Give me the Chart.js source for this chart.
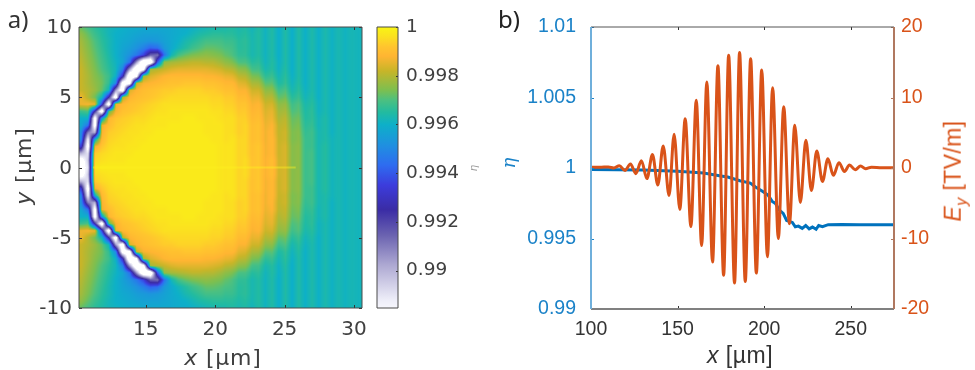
<!DOCTYPE html>
<html>
<head>
<meta charset="utf-8">
<script src="https://cdn.jsdelivr.net/npm/chart.js@4/dist/chart.umd.min.js"></script>
<style>
  body { margin: 0; background: #fff; width: 975px; height: 370px; overflow: hidden; position: relative; }
  canvas { position: absolute; top: 0; }
  .t { position: absolute; white-space: nowrap; transform: translate(-50%, -50%); }
  .dj { font-family: "DejaVu Sans"; color: #404040; }
  .li { font-family: "Liberation Sans"; color: #333; }
  .rot { transform: translate(-50%, -50%) rotate(-90deg); }
  sub { font-size: 70%; }
</style>
</head>
<body>
<canvas id="heat" width="372" height="370" style="left:0"></canvas>
<canvas id="cbar" width="130" height="370" style="left:365px"></canvas>
<canvas id="lines" width="485" height="370" style="left:490px"></canvas>
<div class="t" style="left:18px;top:18px;font:24px 'Noto Sans';color:#333">a)</div>
<div class="t" style="left:509px;top:18px;font:24px 'Noto Sans';color:#222">b)</div>
<div class="t dj" style="left:223px;top:357px;font-size:22px;letter-spacing:.8px"><i>x</i> [µm]</div>
<div class="t dj rot" style="left:23px;top:166px;font-size:22px;letter-spacing:.8px"><i>y</i> [µm]</div>
<div class="t rot" style="left:473px;top:168px;font:italic 10px 'DejaVu Sans';color:#999">η</div>
<div class="t li" style="left:740px;top:355px;font-size:23px;letter-spacing:.5px"><i>x</i> [µm]</div>
<div class="t rot" style="left:508px;top:163px;font:italic 18px 'DejaVu Serif';color:#1a82c8">η</div>
<div class="t rot" style="left:955px;top:171px;font:23px 'Liberation Sans';color:#d95319;letter-spacing:.4px"><i>E<sub>y</sub></i> [TV/m]</div>
<script>
// panel a: eta deficit (1 - eta) in units of 1e-4.
// columns every 0.5 um, rows every 0.5 um from y = 10 down to y = 0 (picture is mirrored about y = 0)
// anything above about 115 is past the bottom of the colorbar and shows white
const gridX0 = 10.35;
const gridStep = 0.5;
const deficitUpper = [
  [28,31,34,36,38,39,40,41,41,42,42,42,42,42,41,41,40,39,38,37,37,36,36,36,37,37,37,37,38,38,38,38,38,38,38,38,38,38,38,38,38],
  [24,28,32,35,38,40,41,42,43,44,44,44,43,42,41,40,38,36,35,34,34,34,35,35,36,36,37,37,38,38,38,38,38,38,38,38,38,38,38,38,38],
  [22,26,30,34,37,40,42,43,45,46,47,46,44,42,40,37,35,33,31,31,31,32,33,34,35,36,37,37,38,38,38,38,38,38,38,38,38,38,38,38,38],
  [21,25,29,33,37,40,43,45,48,52,58,56,46,42,38,35,32,30,28,28,29,30,32,34,35,36,37,37,38,38,38,38,38,38,38,38,38,38,38,38,38],
  [20,24,28,32,36,40,44,48,54,64,85,88,55,38,31,28,26,25,24,25,26,28,31,33,35,36,37,37,38,38,38,38,38,38,38,38,38,38,38,38,38],
  [19,23,27,31,35,39,43,55,95,135,135,60,24,22,21,20,19,19,20,20,22,24,27,30,32,34,36,37,37,38,38,38,38,38,38,38,38,38,38,38,38],
  [18,22,26,30,34,38,52,95,135,125,22,20,18,16,15,15,15,15,15,16,17,19,21,24,27,31,34,36,37,37,38,38,38,38,38,38,38,38,38,38,38],
  [18,21,25,28,32,40,70,135,120,22,16,14,12,11,11,11,11,11,12,12,13,14,16,19,22,26,30,33,35,36,37,38,38,38,38,38,38,38,38,38,38],
  [18,21,24,27,33,50,125,125,18,13,12,11,10,9,9,8,8,8,9,9,10,11,12,15,18,21,25,29,32,35,36,37,38,38,38,38,38,38,38,38,38],
  [18,20,23,28,38,95,130,16,12,10,9,8,7,7,6,6,6,6,7,7,8,9,10,12,14,17,20,24,28,31,34,36,37,38,38,38,38,38,38,38,38],
  [14,20,27,38,75,130,20,12,10,9,8,7,6,5,5,5,5,5,5,6,6,7,8,10,12,14,17,20,24,28,31,34,36,37,38,38,38,38,38,38,38],
  [14,13,14,65,130,14,11,9,8,7,6,5,4,4,4,4,4,4,4,5,5,6,7,8,10,12,14,17,20,24,28,31,34,36,37,38,38,38,38,38,38],
  [32,30,75,130,30,13,9,8,7,6,5,4,4,3,3,3,3,3,3,4,4,5,6,7,9,11,13,15,18,22,26,30,33,35,37,38,38,38,38,38,38],
  [40,40,125,45,12,8,7,6,5,5,4,3,3,3,3,2,2,3,3,3,4,4,5,6,8,10,12,14,17,20,24,28,32,35,36,37,38,38,38,38,38],
  [42,55,125,14,10,7,6,5,4,4,3,3,3,2,2,2,2,2,3,3,3,4,5,6,7,9,11,13,15,19,23,27,31,34,36,37,38,38,38,38,38],
  [48,90,100,13,7,6,5,4,4,3,3,2,2,2,2,2,2,2,3,3,3,4,5,6,7,9,11,12,15,18,22,26,30,33,35,37,38,38,38,38,38],
  [50,115,40,11,6,5,4,4,3,3,2,2,2,2,2,2,2,2,2,3,3,4,4,5,7,9,11,12,14,18,22,26,29,33,35,37,37,38,38,38,38],
  [65,125,14,8,5,4,4,3,3,2,2,2,2,2,2,2,2,2,2,2,3,3,4,5,7,8,10,12,14,17,21,25,29,33,35,36,37,38,38,38,38],
  [100,110,7,5,4,3,3,3,2,2,2,2,2,2,2,2,2,2,2,2,3,3,4,5,7,8,10,12,14,17,21,25,29,32,35,36,37,38,38,38,38],
  [125,105,5,4,3,3,3,2,2,2,2,2,2,2,2,2,2,2,2,2,3,3,4,5,6,8,10,11,13,17,21,25,29,32,35,36,37,38,38,38,38],
  [125,110,3,2,2,2,2,2,2,2,2,2,2,2,2,2,2,2,2,2,3,3,4,5,6,8,10,11,13,17,21,25,29,32,35,36,37,38,38,38,38]
];
const deficitRows = deficitUpper.concat(deficitUpper.slice(0, -1).reverse());
// faint vertical stripes at the right of the map, one value every 0.24 um from x = 20.5
const stripeX0 = 20.5;
const stripeStep = 0.24;
const stripes = [0,.5,0,-.5,0,1,0,-1,0,1.5,0,-1.5,0,2,0,-2,0,2.5,0,-2.5,0,2.5,0,-2.5,0,2,0,-2,0,2,0,-1.5,0,1.5,0,-1,0,1,0,-.5,0,.5,0];
// bright line along y = 0
const axisLineX = [11.2, 25.8];
const axisLineY = [0, 0];

// colormap: deficit -> colour
const cmapDeficit = [0,4,8,12,18,26,30,35,40,48.5,56.7,65,75,85.4,97.7,112,115.4];
const cmapColors = ["#f9f514","#fbe020","#ffc52e","#ffb532","#c8b528","#7cbf50","#4cc080","#22bba0","#0db0c8","#1f90e0","#2e6cf0","#3c3cdc","#3a2ca5","#6a62b0","#ada8d2","#ededf8","#f6f6fc"];
const cbarMin = 0.98846;
const cbarTicks = [1, 0.998, 0.996, 0.994, 0.992, 0.99];
const cbarTickLabels = ["1", "0.998", "0.996", "0.994", "0.992", "0.99"];
const heatXTicks = [15, 20, 25, 30];
const heatYTicks = [10, 5, 0, -5, -10];

// panel b: read at the extrema of the field
const fieldX = [100,106,110.1,113.2,116.4,119.6,122.8,125.9,129.1,132.3,135.5,138.6,141.7,145.1,148,151.3,154.4,157.7,160.8,163.9,166.9,170.2,173.3,176.6,179.5,182.9,185.8,189.1,192.2,195.5,198.6,201.9,204.9,208.2,211.3,214.6,217.7,220.9,224.1,227.3,230.4,233.7,236.8,240,243.2,246.4,249.3,252.6,255.7,258.6,262,268,275];
const fieldY = [0.1,0.12,0.14,0,0.33,-0.35,0.57,-0.8,1.04,-1.5,1.9,-2.4,3.13,-3.9,4.79,-5.87,7,-8.3,9.6,-11,12.2,-13.35,14.5,-15.2,16,-16.3,16.4,-16.1,15.5,-14.9,13.9,-12.6,11.4,-10,8.7,-7.9,6.07,-4.9,3.93,-3.2,2.4,-1.9,1.3,-1.04,0.76,-0.5,0.43,-0.24,0.28,-0.1,0.12,0.02,0.03];
const etaX = [100,130,150,165,175,179,186,192,195,199,202.4,204.5,206.5,208.5,211,213,216.3,218,219.8,222,224,226,227.9,230,231.5,233.7,237,245,255,275];
const etaY = [0.99989,0.99985,0.99977,0.99964,0.99943,0.99936,0.9991,0.99893,0.99865,0.99835,0.99806,0.99765,0.99749,0.99705,0.99678,0.99628,0.99614,0.99583,0.99588,0.99572,0.99592,0.99568,0.99581,0.99565,0.99592,0.99584,0.99598,0.996,0.99597,0.99598];
const lineXTicks = [100, 150, 200, 250];
const etaTicks = [1.01, 1.005, 1, 0.995, 0.99];
const etaTickLabels = ["1.01", "1.005", "1", "0.995", "0.99"];
const fieldTicks = [20, 10, 0, -10, -20];

const hexRgb = (h) => [1, 3, 5].map((i) => parseInt(h.slice(i, i + 2), 16));
const cmapRgb = cmapColors.map(hexRgb);

function colorForDeficit(d) {
  const last = cmapDeficit.length - 1;
  if (d <= 0) return cmapRgb[0];
  if (d >= cmapDeficit[last]) return [255, 255, 255];
  let i = 0;
  while (cmapDeficit[i + 1] < d) i++;
  const f = (d - cmapDeficit[i]) / (cmapDeficit[i + 1] - cmapDeficit[i]);
  return cmapRgb[i].map((c, k) => c + (cmapRgb[i + 1][k] - c) * f);
}

function deficitAt(xv, yv) {
  const rows = deficitRows;
  const cf = Math.min(Math.max((xv - gridX0) / gridStep, 0), rows[0].length - 1);
  const rf = Math.min(Math.max((10 - yv) / gridStep, 0), rows.length - 1);
  const c0 = Math.floor(cf), r0 = Math.floor(rf);
  const c1 = Math.min(c0 + 1, rows[0].length - 1), r1 = Math.min(r0 + 1, rows.length - 1);
  const a = rows[r0][c0] + (rows[r0][c1] - rows[r0][c0]) * (cf - c0);
  const b = rows[r1][c0] + (rows[r1][c1] - rows[r1][c0]) * (cf - c0);
  let d = a + (b - a) * (rf - r0);
  const sf = (xv - stripeX0) / stripeStep;
  if (sf >= 0 && sf < stripes.length - 1) {
    const s0 = Math.floor(sf);
    d += stripes[s0] + (stripes[s0 + 1] - stripes[s0]) * (sf - s0);
  }
  return d;
}

// like matlab's shading interp, painted pixel by pixel through the chart's scales
const heatmapPlugin = {
  id: "heatmap",
  beforeDatasetsDraw(chart) {
    const { ctx, chartArea: a, scales } = chart;
    const left = Math.round(a.left), top = Math.round(a.top);
    const w = Math.round(a.right) - left, h = Math.round(a.bottom) - top;
    const img = ctx.createImageData(w, h);
    for (let j = 0; j < h; j++) {
      const yv = scales.y.getValueForPixel(top + j + 0.5);
      for (let i = 0; i < w; i++) {
        const xv = scales.x.getValueForPixel(left + i + 0.5);
        const rgb = colorForDeficit(deficitAt(xv, yv));
        const p = (j * w + i) * 4;
        img.data[p] = rgb[0]; img.data[p + 1] = rgb[1]; img.data[p + 2] = rgb[2]; img.data[p + 3] = 255;
      }
    }
    ctx.putImageData(img, left, top);
  },
};

// matlab style box with inward ticks
function framePlugin(cfg) {
  return {
    id: "frame",
    afterDraw(chart) {
      const { ctx, chartArea: a, scales } = chart;
      const side = (s, x1, y1, x2, y2) => {
        ctx.strokeStyle = s.color; ctx.lineWidth = s.width;
        ctx.beginPath(); ctx.moveTo(x1, y1); ctx.lineTo(x2, y2); ctx.stroke();
      };
      const tick = (color, x1, y1, x2, y2) => {
        ctx.strokeStyle = color; ctx.lineWidth = 1;
        ctx.beginPath(); ctx.moveTo(x1, y1); ctx.lineTo(x2, y2); ctx.stroke();
      };
      ctx.save();
      const L = cfg.tickLen || 3;
      if (cfg.xKey) {
        scales[cfg.xKey].ticks.forEach((t) => {
          const p = Math.round(scales[cfg.xKey].getPixelForValue(t.value)) + 0.5;
          tick(cfg.xTick, p, a.top, p, a.top + L);
          tick(cfg.xTick, p, a.bottom, p, a.bottom - L);
        });
      }
      if (cfg.leftKey) {
        scales[cfg.leftKey].ticks.forEach((t) => {
          const p = Math.round(scales[cfg.leftKey].getPixelForValue(t.value)) + 0.5;
          tick(cfg.left.tick, a.left, p, a.left + L, p);
        });
      }
      if (cfg.rightKey) {
        scales[cfg.rightKey].ticks.forEach((t) => {
          const p = Math.round(scales[cfg.rightKey].getPixelForValue(t.value)) + 0.5;
          tick(cfg.right.tick, a.right, p, a.right - L, p);
        });
      }
      side(cfg.top, a.left, a.top, a.right, a.top);
      side(cfg.bottom, a.left, a.bottom, a.right, a.bottom);
      side(cfg.left, a.left, a.top, a.left, a.bottom);
      side(cfg.right, a.right, a.top, a.right, a.bottom);
      ctx.restore();
    },
  };
}

const setTicks = (list) => (scale) => { scale.ticks = list.map((v) => ({ value: v })); };
const fixed = (prop, n) => (scale) => { scale[prop] = n; };
const noGrid = { display: false, drawTicks: false };
const djFont = (size) => ({ family: "DejaVu Sans", size });
const liFont = { family: "Liberation Sans", size: 19.5 };
const gray = { color: "#4a4a4a", width: 1, tick: "#333" };

new Chart(document.getElementById("heat"), {
  type: "line",
  data: {
    datasets: [{
      data: axisLineX.map((x, i) => ({ x, y: axisLineY[i] })),
      borderColor: "rgba(252,240,30,0.45)",
      borderWidth: 2,
      pointRadius: 0,
    }],
  },
  options: {
    responsive: false,
    animation: false,
    layout: { padding: { top: 27, right: 10 } },
    plugins: { legend: { display: false }, tooltip: { enabled: false } },
    scales: {
      x: {
        type: "linear", min: 10.2, max: 30.57,
        afterBuildTicks: setTicks(heatXTicks),
        afterFit(scale) { scale.height = 62; scale.paddingRight = 0; scale.paddingLeft = 0; },
        grid: noGrid, border: { display: false },
        ticks: { color: "#404040", font: djFont(20), padding: 10, maxRotation: 0, autoSkip: false },
      },
      y: {
        type: "linear", min: -10, max: 10,
        afterBuildTicks: setTicks(heatYTicks),
        afterFit: fixed("width", 79),
        grid: noGrid, border: { display: false },
        ticks: { color: "#404040", font: djFont(20), padding: 7, labelOffset: 1, autoSkip: false },
      },
    },
  },
  plugins: [heatmapPlugin, framePlugin({ xKey: "x", xTick: "#333", leftKey: "y", rightKey: "y", top: gray, bottom: gray, left: gray, right: gray })],
});

new Chart(document.getElementById("cbar"), {
  type: "bar",
  data: {
    labels: ["eta"],
    datasets: [{
      data: [[cbarMin, 1]],
      barPercentage: 1,
      categoryPercentage: 1,
      backgroundColor(ctx) {
        const chart = ctx.chart;
        if (!chart.chartArea) return "#fff";
        const yScale = chart.scales.y;
        const g = chart.ctx.createLinearGradient(0, yScale.getPixelForValue(1), 0, yScale.getPixelForValue(cbarMin));
        cmapDeficit.forEach((d, i) => g.addColorStop(d / cmapDeficit[cmapDeficit.length - 1], cmapColors[i]));
        return g;
      },
    }],
  },
  options: {
    responsive: false,
    animation: false,
    layout: { padding: { top: 27, left: 12, bottom: 62 } },
    plugins: { legend: { display: false }, tooltip: { enabled: false } },
    scales: {
      x: { display: false },
      y: {
        position: "right", min: cbarMin, max: 1,
        afterBuildTicks: setTicks(cbarTicks),
        afterFit: fixed("width", 97),
        grid: noGrid, border: { display: false },
        ticks: {
          color: "#404040", font: djFont(18.5), padding: 8, autoSkip: false,
          callback: (v, i) => cbarTickLabels[i],
        },
      },
    },
  },
  plugins: [framePlugin({ tickLen: 2, rightKey: "y", top: gray, bottom: gray, left: gray, right: gray })],
});

new Chart(document.getElementById("lines"), {
  type: "line",
  data: {
    datasets: [
      {
        label: "Ey",
        yAxisID: "yField",
        data: fieldX.map((x, i) => ({ x, y: fieldY[i] })),
        borderColor: "#d95319",
        borderWidth: 3,
        pointRadius: 0,
        cubicInterpolationMode: "monotone",
      },
      {
        label: "eta",
        yAxisID: "yEta",
        data: etaX.map((x, i) => ({ x, y: etaY[i] })),
        borderColor: "#0072bd",
        borderWidth: 3,
        pointRadius: 0,
      },
    ],
  },
  options: {
    responsive: false,
    animation: false,
    layout: { padding: { top: 27 } },
    plugins: { legend: { display: false }, tooltip: { enabled: false } },
    scales: {
      x: {
        type: "linear", min: 100, max: 275,
        afterBuildTicks: setTicks(lineXTicks),
        afterFit: fixed("height", 61),
        grid: noGrid, border: { display: false },
        ticks: { color: "#333", font: liFont, padding: 9, maxRotation: 0, autoSkip: false },
      },
      yEta: {
        type: "linear", position: "left", min: 0.99, max: 1.01,
        afterBuildTicks: setTicks(etaTicks),
        afterFit: fixed("width", 101),
        grid: noGrid, border: { display: false },
        ticks: { color: "#1a82c8", font: liFont, padding: 15, autoSkip: false, callback: (v, i) => etaTickLabels[i] },
      },
      yField: {
        type: "linear", position: "right", min: -20, max: 20,
        afterBuildTicks: setTicks(fieldTicks),
        afterFit: fixed("width", 81),
        grid: noGrid, border: { display: false },
        ticks: { color: "#d95319", font: liFont, padding: 7, autoSkip: false },
      },
    },
  },
  plugins: [framePlugin({
    xKey: "x", xTick: "#333", leftKey: "yEta", rightKey: "yField",
    top: { color: "#555", width: 1 },
    bottom: { color: "#808080", width: 2 },
    left: { color: "#6fafdb", width: 2, tick: "#1a82c8" },
    right: { color: "#b07860", width: 2, tick: "#b07860" },
  })],
});
</script>
</body>
</html>
